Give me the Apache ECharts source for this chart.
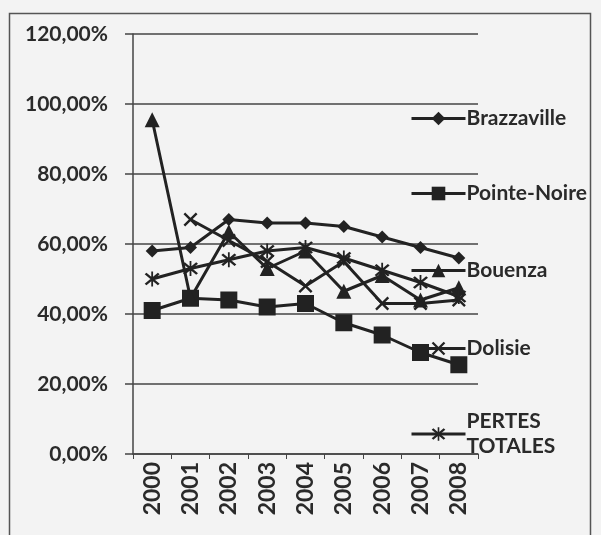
<!DOCTYPE html>
<html>
<head>
<meta charset="utf-8">
<script src="https://cdn.jsdelivr.net/npm/echarts@6/dist/echarts.min.js"></script>
<style>
  html, body { margin: 0; padding: 0; background: #f3f3f3; }
  #main { width: 601px; height: 535px; }
</style>
</head>
<body>
<div id="main"></div>
<script>
// années
var years = ['2000', '2001', '2002', '2003', '2004', '2005', '2006', '2007', '2008'];
var seriesNames = ['Brazzaville', 'Pointe-Noire', 'Bouenza', 'Dolisie', 'PERTES TOTALES'];

// taux (fractions)
var brazzaville = [0.58, 0.59, 0.67, 0.66, 0.66, 0.65, 0.62, 0.59, 0.56];
var pointeNoire = [0.41, 0.445, 0.44, 0.42, 0.43, 0.375, 0.34, 0.29, 0.255];
var bouenza = [0.955, 0.445, 0.635, 0.53, 0.58, 0.465, 0.51, 0.44, 0.475];
var dolisie = [null, 0.67, 0.61, 0.55, 0.48, 0.55, 0.43, 0.43, 0.44];
var pertesTotales = [0.50, 0.53, 0.555, 0.58, 0.59, 0.56, 0.525, 0.49, 0.45];

var ink = '#222';
var crossPath = 'path://M0,1.2 L1.2,0 L10,8.8 L8.8,10 Z M8.8,0 L10,1.2 L1.2,10 L0,8.8 Z';
var starPath = 'path://M0,1.2 L1.2,0 L10,8.8 L8.8,10 Z M8.8,0 L10,1.2 L1.2,10 L0,8.8 Z M4.4,-1 L5.6,-1 L5.6,11 L4.4,11 Z';

var allData = [brazzaville, pointeNoire, bouenza, dolisie, pertesTotales];
var symbols = ['diamond', 'rect', 'triangle', crossPath, starPath];
var symbolSizes = [13, 17, 15, 14, 15];
var legendTops = [101, 176, 253, 331, 404];

var textFont = {
  fontFamily: 'Lato',
  fontSize: 21,
  fontWeight: 'bold',
  color: '#2a2a2a'
};

var myChart = echarts.init(document.getElementById('main'));

var series = seriesNames.map(function (name, i) {
  return {
    name: name,
    type: 'line',
    data: allData[i],
    symbol: symbols[i],
    symbolSize: symbolSizes[i],
    showAllSymbol: true,
    connectNulls: false,
    lineStyle: { color: ink, width: 3 },
    itemStyle: { color: ink },
    emphasis: { disabled: true },
    animation: false
  };
});

var legends = seriesNames.map(function (name, i) {
  return {
    data: [name],
    orient: 'vertical',
    left: 405,
    top: legendTops[i],
    itemWidth: 54,
    itemHeight: 17,
    itemGap: 0,
    lineStyle: { width: 3 },
    formatter: function (n) {
      return n === 'PERTES TOTALES' ? 'PERTES\nTOTALES' : n;
    },
    textStyle: Object.assign({ lineHeight: 25, padding: [0, 0, 0, -4] }, textFont)
  };
});

var option = {
  backgroundColor: '#f3f3f3',
  animation: false,
  grid: { left: 133, right: 123, top: 34, bottom: 81 },
  xAxis: {
    type: 'category',
    data: years,
    boundaryGap: true,
    axisLine: { lineStyle: { color: '#444', width: 1.5 } },
    axisTick: { show: true, length: 5, lineStyle: { color: '#444' } },
    axisLabel: Object.assign({}, textFont, { rotate: 90, margin: 8, fontSize: 23 })
  },
  yAxis: {
    type: 'value',
    min: 0,
    max: 1.2,
    interval: 0.2,
    axisLine: { show: true, lineStyle: { color: '#444', width: 1.5 } },
    axisTick: { show: true, length: 8, lineStyle: { color: '#444', width: 1.5 } },
    splitLine: { lineStyle: { color: '#444', width: 1.5 } },
    axisLabel: Object.assign({
      margin: 25,
      formatter: function (v) {
        return (v * 100).toFixed(2).replace('.', ',') + '%';
      }
    }, textFont)
  },
  legend: legends,
  graphic: [{
    type: 'rect',
    shape: { x: 9.5, y: 13.5, width: 581, height: 540 },
    style: { fill: 'none', stroke: '#555', lineWidth: 1.5 },
    silent: true
  }],
  series: series
};

myChart.setOption(option);
</script>
</body>
</html>
